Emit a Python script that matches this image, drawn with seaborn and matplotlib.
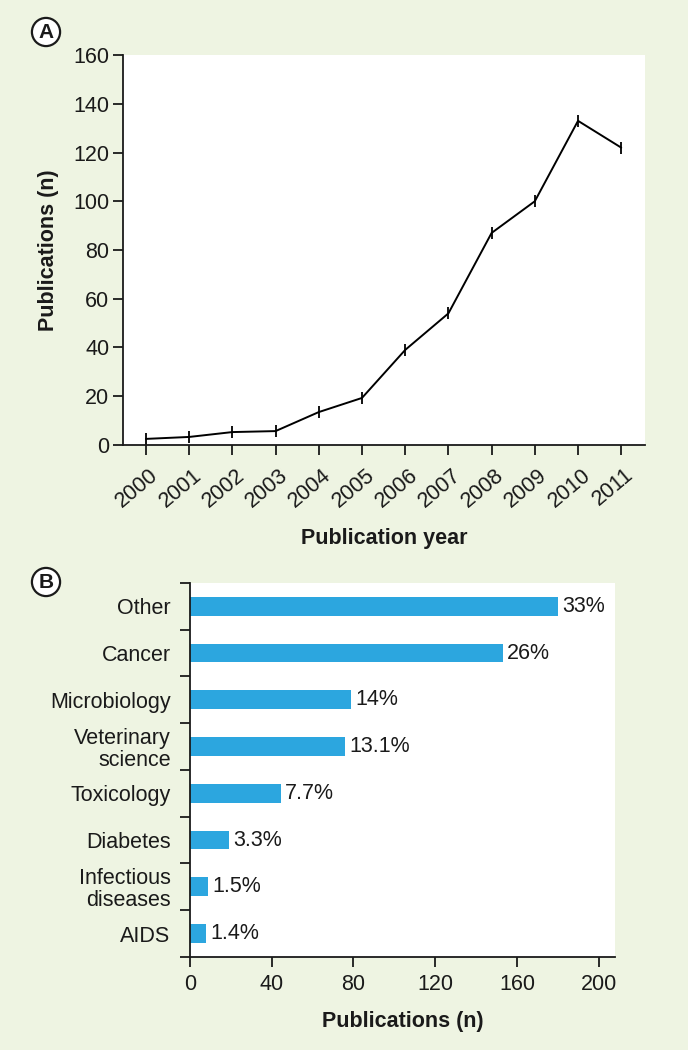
import matplotlib
matplotlib.use("Agg")
import matplotlib.pyplot as plt
import matplotlib.transforms as mtransforms
import seaborn as sns
import pandas as pd

years = [2000, 2001, 2002, 2003, 2004, 2005, 2006, 2007, 2008, 2009, 2010, 2011]
pubs = [2.5, 3.3, 5.3, 5.7, 13.5, 19.3, 39, 54, 87, 100, 133, 122]

fields = ["Other", "Cancer", "Microbiology", "Veterinary\nscience", "Toxicology",
          "Diabetes", "Infectious\ndiseases", "AIDS"]
field_pubs = [180, 153, 79, 76, 44.6, 19, 9, 7.8]
field_pct = ["33%", "26%", "14%", "13.1%", "7.7%", "3.3%", "1.5%", "1.4%"]

y_ticks_a = [0, 20, 40, 60, 80, 100, 120, 140, 160]
x_ticks_b = [0, 40, 80, 120, 160, 200]

BG = "#EEF4E2"
BAR = "#2CA6DF"
TXT = "#1a1a1a"

sns.set_theme(style="ticks")
plt.rcParams["font.family"] = ["Liberation Sans", "DejaVu Sans"]
plt.rcParams["text.color"] = TXT
plt.rcParams["axes.labelcolor"] = TXT
plt.rcParams["xtick.color"] = TXT
plt.rcParams["ytick.color"] = TXT

fig = plt.figure(figsize=(6.88, 10.5), dpi=100, facecolor=BG)

# Panel A
axA = fig.add_axes([0.1788, 0.5762, 0.7587, 0.3714])
dfA = pd.DataFrame({"year": years, "pubs": pubs})
sns.lineplot(data=dfA, x="year", y="pubs", ax=axA, color="black", linewidth=1.4,
             marker="|", markersize=9, markeredgewidth=1.3, markeredgecolor="black")
axA.set_xlim(1999.47, 2011.55)
axA.set_ylim(0, 160)
axA.set_yticks(y_ticks_a)
axA.set_xticks(years)
axA.set_xticklabels([str(y) for y in years], rotation=40, ha="right", rotation_mode="anchor")
axA.tick_params(axis="both", labelsize=15.5, length=7, width=1.3, pad=3)
axA.tick_params(axis="x", pad=7)
off = mtransforms.ScaledTranslation(3 / 100, 0, fig.dpi_scale_trans)
for lab in axA.get_xticklabels():
    lab.set_transform(lab.get_transform() + off)
for s in ["top", "right"]:
    axA.spines[s].set_visible(False)
for s in ["left", "bottom"]:
    axA.spines[s].set_linewidth(1.3)
    axA.spines[s].set_color(TXT)
axA.set_facecolor("white")
axA.set_xlabel("Publication year", fontsize=15.5, fontweight="bold", labelpad=12)
axA.set_ylabel("Publications (n)", fontsize=15.5, fontweight="bold", labelpad=10)

# Panel B
axB = fig.add_axes([0.2762, 0.0886, 0.6177, 0.3562])
dfB = pd.DataFrame({"field": fields, "pubs": field_pubs})
sns.barplot(data=dfB, y="field", x="pubs", orient="h", ax=axB, color=BAR,
            saturation=1, width=0.4, edgecolor="none")
axB.set_xlim(0, 208)
axB.set_ylim(len(fields) - 0.5, -0.5)
axB.set_xticks(x_ticks_b)
axB.set_yticks([i - 0.5 for i in range(len(fields) + 1)], minor=False)
axB.set_yticklabels([])
axB.set_yticks(range(len(fields)), minor=True)
axB.set_yticklabels(fields, minor=True, fontsize=15.5, linespacing=1.05)
axB.tick_params(axis="y", which="minor", length=0, pad=14)
axB.tick_params(axis="y", which="major", length=7, width=1.3)
axB.tick_params(axis="x", labelsize=15.5, length=7, width=1.3, pad=5)
for s in ["top", "right"]:
    axB.spines[s].set_visible(False)
for s in ["left", "bottom"]:
    axB.spines[s].set_linewidth(1.3)
    axB.spines[s].set_color(TXT)
axB.set_facecolor("white")
for i, (v, p) in enumerate(zip(field_pubs, field_pct)):
    axB.annotate(p, (v, i), xytext=(3, 0), textcoords="offset points",
                 va="center", ha="left", fontsize=15.5)
axB.set_xlabel("Publications (n)", fontsize=15.5, fontweight="bold", labelpad=12)
axB.set_ylabel("")

# Panel labels
for x, y, t in [(46, 32, "A"), (46, 582, "B")]:
    fig.text(x / 688, 1 - y / 1050, t, fontsize=15, fontweight="bold", ha="center", va="center",
             bbox=dict(boxstyle="circle,pad=0.22", facecolor="white", edgecolor=TXT, linewidth=1.6))

fig.savefig("out.png", dpi=100, facecolor=BG)
